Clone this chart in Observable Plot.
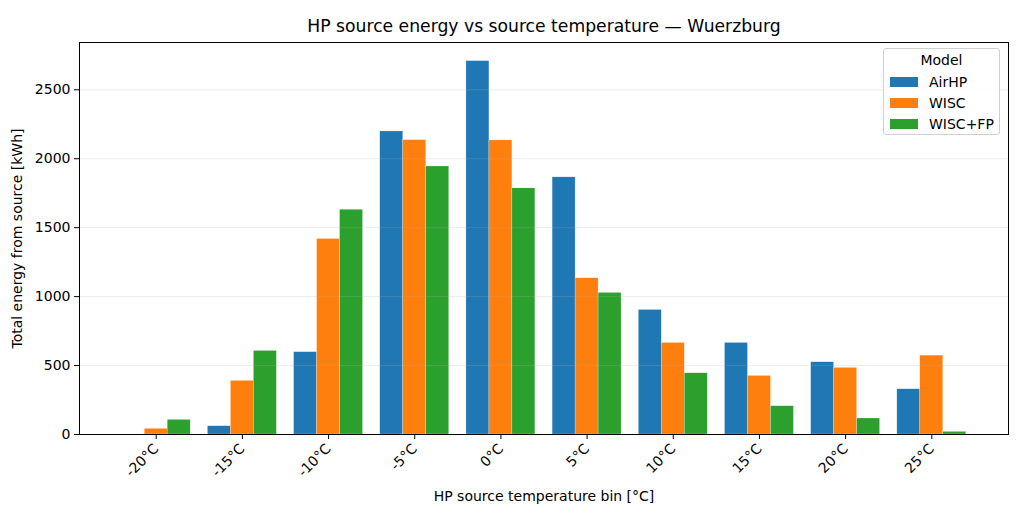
<!DOCTYPE html>
<html><head><meta charset="utf-8">
<script src="https://cdn.jsdelivr.net/npm/d3@7"></script>
<script src="https://cdn.jsdelivr.net/npm/@observablehq/plot@0.6"></script>
<style>
body{margin:0;background:#fff;font-family:"DejaVu Sans",sans-serif;}
#wrap{position:relative;width:1024px;height:517px;overflow:hidden;}
#title{position:absolute;left:0;width:1088px;top:16px;text-align:center;font-size:17.2px;color:#000;}
#legend{position:absolute;left:883px;top:48px;width:117px;height:87px;border:1px solid #d0d0d0;border-radius:3px;background:rgba(255,255,255,0.8);font-size:14px;color:#000;box-sizing:border-box;}
#legend .lt{text-align:center;margin-top:3px;height:19px;}
#legend .row{display:flex;align-items:center;height:21px;padding-left:6px;}
#legend .sw{width:28px;height:10px;margin-right:11px;}
svg{position:absolute;left:0;top:0;}
</style></head><body><div id="wrap"><div id="title">HP source energy vs source temperature — Wuerzburg</div></div>
<script>
const bins = ["-20°C","-15°C","-10°C","-5°C","0°C","5°C","10°C","15°C","20°C","25°C"];
const models = ["AirHP","WISC","WISC+FP"];
const airhp  = [0, 60, 597, 2198, 2708, 1865, 903, 664, 524, 328];
const wisc   = [41, 389, 1418, 2135, 2133, 1133, 664, 425, 483, 572];
const wiscfp = [106, 606, 1630, 1944, 1785, 1027, 444, 205, 116, 19];
const colors = ["#1f77b4","#ff7f0e","#2ca02c"];
const yTicks = [0, 500, 1000, 1500, 2000, 2500];

const series = [airhp, wisc, wiscfp];
const w = 0.8 / models.length;
const data = [];
bins.forEach((b, i) => {
  models.forEach((m, j) => {
    const x1 = i - 0.4 + j * w;
    data.push({bin: b, model: m, value: series[j][i], x1, x2: x1 + w});
  });
});

const chart = Plot.plot({
  width: 1024, height: 517,
  marginLeft: 79, marginRight: 16, marginTop: 42, marginBottom: 83,
  style: {fontFamily: "DejaVu Sans", fontSize: "14px", color: "#000", background: "transparent"},
  x: {domain: [-0.89, 9.89], ticks: d3.range(bins.length), tickFormat: i => bins[i], tickRotate: -45, tickSize: 5,
      label: "HP source temperature bin [°C]", labelAnchor: "center", labelOffset: 66, labelArrow: "none"},
  y: {domain: [0, 2843], ticks: yTicks, tickSize: 5, tickFormat: d => String(d),
      label: "Total energy from source [kWh]", labelAnchor: "center", labelOffset: 67, labelArrow: "none"},
  color: {domain: models, range: colors},
  marks: [
    Plot.rectY(data, {x1: "x1", x2: "x2", y: "value", fill: "model", stroke: "#fff", strokeWidth: 0.4, strokeOpacity: 0.6}),
    Plot.ruleY(yTicks.slice(1), {stroke: "#b0b0b0", strokeOpacity: 0.3, strokeWidth: 0.8}),
    Plot.frame({stroke: "#000", strokeWidth: 1})
  ]
});
document.getElementById("wrap").appendChild(chart);

const lg = document.createElement("div");
lg.id = "legend";
lg.innerHTML = '<div class="lt">Model</div>' + models.map((m, j) =>
  `<div class="row"><div class="sw" style="background:${colors[j]}"></div><span>${m}</span></div>`).join("");
document.getElementById("wrap").appendChild(lg);
</script>
</body></html>
